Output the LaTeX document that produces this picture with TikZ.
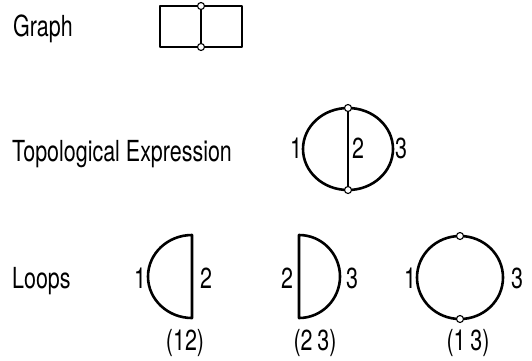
\documentclass[tikz,border=0pt]{standalone}
\usepackage{fontspec}
\setmainfont{TeX Gyre Heros}[FakeStretch=0.74]
\pgfdeclarelayer{bg}
\pgfsetlayers{bg,main}
\begin{document}
\begin{tikzpicture}[x=1pt,y=-1pt,
  edge/.style={line width=2.6pt,line join=round},
  chord/.style={line width=1.6pt},
  vtx/.style={circle,draw,line width=1.1pt,fill=white,minimum size=7pt,inner sep=0pt},
  lbl/.style={font=\fontsize{29}{29}\selectfont,inner sep=0pt,anchor=base west},
  num/.style={font=\fontsize{29}{29}\selectfont,inner sep=0pt,anchor=base}]
\useasboundingbox (0,0) rectangle (532,360);
% labels
\node[lbl] (tgraph) at (13,36) {Graph};
\node[lbl] (ttopo) at (12,161) {Topological Expression};
\node[lbl] (tloops) at (12,288) {Loops};
% Graph
\node[vtx] (gt) at (201,6) {};
\node[vtx] (gb) at (201,47) {};
\begin{pgfonlayer}{bg}
\draw[edge] (160,6) rectangle (242,47);
\draw[chord] (gt) -- (gb);
\end{pgfonlayer}
% Topological expression
\node[vtx] (tt) at (348,108) {};
\node[vtx] (tb) at (348,190) {};
\begin{pgfonlayer}{bg}
\draw[edge] (348,149) ellipse[x radius=45pt,y radius=41pt];
\draw[chord] (tt) -- (tb);
\end{pgfonlayer}
\node[num] (n1) at (296,158) {1};
\node[num] (n2) at (358,158) {2};
\node[num] (n3) at (401,158) {3};
% Loop (12)
\draw[edge] (192,235) arc[start angle=90,end angle=270,x radius=44pt,y radius=41.5pt] -- cycle;
\node[num] (a1) at (140,288) {1};
\node[num] (a2) at (206,288) {2};
\node[num] (a12) at (185,350) {(12)};
% Loop (23)
\draw[edge] (299,235) arc[start angle=90,end angle=-90,x radius=41pt,y radius=41.5pt] -- cycle;
\node[num] (b2) at (287,288) {2};
\node[num] (b3) at (352,288) {3};
\node[num] (b23) at (315,350) {(2\,3)};
% Loop (13)
\node[vtx] (ct) at (460,236) {};
\node[vtx] (cb) at (460,319) {};
\begin{pgfonlayer}{bg}
\draw[edge] (460,277.5) ellipse[x radius=43pt,y radius=41.5pt];
\end{pgfonlayer}
\node[num] (c1) at (410,288) {1};
\node[num] (c3) at (517,288) {3};
\node[num] (c13) at (468,350) {(1\,3)};
\end{tikzpicture}
\end{document}
